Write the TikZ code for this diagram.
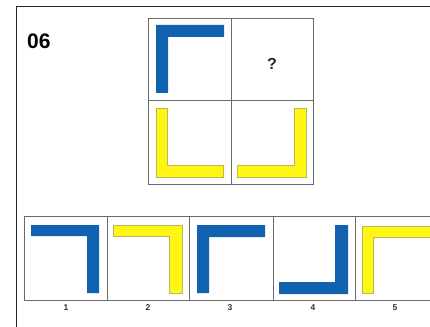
\documentclass[tikz,border=0pt]{standalone}
\usepackage{fontspec}
\setmainfont{Liberation Sans}
\definecolor{pblue}{RGB}{18,98,178}
\definecolor{pyellow}{RGB}{255,246,20}
\definecolor{pedge}{RGB}{190,180,90}
\definecolor{gridgray}{RGB}{105,105,105}
\begin{document}
\begin{tikzpicture}[x=1pt,y=-1pt,
  bluel/.style={fill=pblue,draw=none},
  yell/.style={fill=pyellow,draw=pedge,line width=0.4pt},
  cell/.style={draw=gridgray,line width=0.8pt},
  frame/.style={draw=black!85,line width=1pt},
  lab/.style={font=\bfseries\fontsize{8.5}{9}\selectfont,inner sep=0pt,text=black!80}]
\useasboundingbox (0,0) rectangle (430,326);
\clip (0,0) rectangle (430,326);
\fill[white] (0,0) rectangle (430,326);
% outer frame
\draw[frame] (16,330) -- (16,7) -- (432,7);
\node[font=\bfseries\fontsize{21}{24}\selectfont,inner sep=0pt,anchor=west] (num) at (27,41) {06};
% 2x2 grid
\draw[cell] (148,18) rectangle (313,184);
\draw[cell] (231,18) -- (231,184);
\draw[cell] (148,100) -- (313,100);
\path[bluel] (156,25) -- (224,25) -- (224,37) -- (168,37) -- (168,93) -- (156,93) -- cycle;
\node[font=\bfseries\fontsize{16}{17}\selectfont,inner sep=0pt,text=black!85] (q) at (272,64) {?};
\path[yell] (156,108) -- (167,108) -- (167,165) -- (223,165) -- (223,177) -- (156,177) -- cycle;
\path[yell] (237,165) -- (294,165) -- (294,108) -- (306,108) -- (306,177) -- (237,177) -- cycle;
% answer row
\draw[cell] (24,216) rectangle (440,300);
\foreach \x in {107,189,273,355} \draw[cell] (\x,216) -- (\x,300);
\path[bluel] (31,225) -- (99,225) -- (99,293) -- (87,293) -- (87,236) -- (31,236) -- cycle;
\path[yell] (113,225) -- (182,225) -- (182,293) -- (169,293) -- (169,236) -- (113,236) -- cycle;
\path[bluel] (197,225) -- (265,225) -- (265,237) -- (209,237) -- (209,293) -- (197,293) -- cycle;
\path[bluel] (335,225) -- (348,225) -- (348,294) -- (279,294) -- (279,282) -- (335,282) -- cycle;
\path[yell] (362,226) -- (436,226) -- (436,237) -- (373,237) -- (373,293) -- (362,293) -- cycle;
\node[lab] (l1) at (66,308) {1};
\node[lab] (l2) at (148,308) {2};
\node[lab] (l3) at (230,308) {3};
\node[lab] (l4) at (313,308) {4};
\node[lab] (l5) at (395,308) {5};
\end{tikzpicture}
\end{document}
